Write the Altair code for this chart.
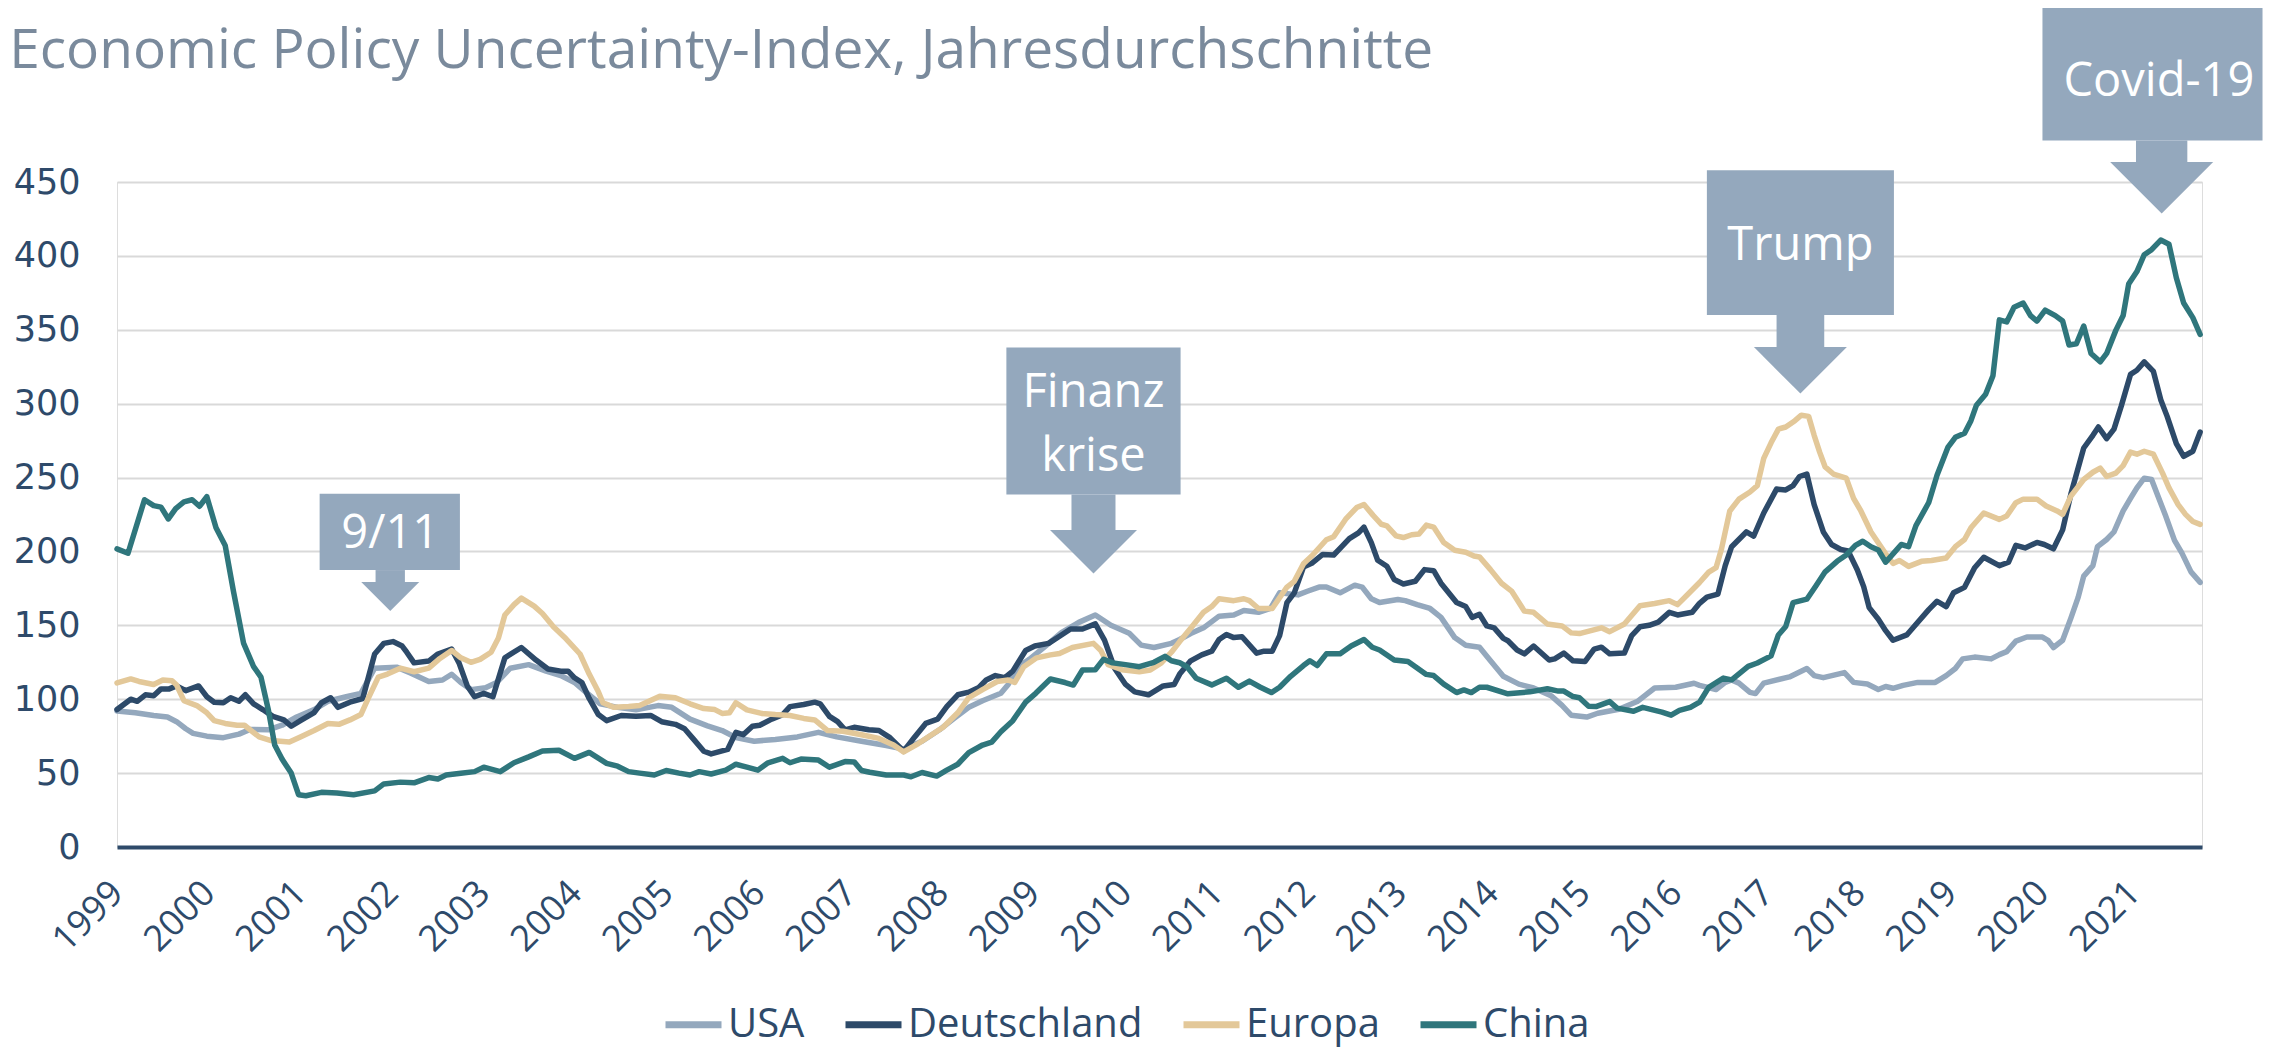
import altair as alt
import pandas as pd

# ---------------- data ----------------
SERIES = ["USA", "Deutschland", "Europa", "China"]
COLORS = ["#94A8BD", "#2D4A69", "#E3C899", "#2F767C"]

USA_T = [1999.0, 1999.2, 1999.4, 1999.55, 1999.65, 1999.75, 1999.83, 1999.98, 2000.16, 2000.33,
         2000.45, 2000.65, 2000.8, 2000.96, 2001.15, 2001.3, 2001.5, 2001.66, 2001.81, 2002.05,
         2002.2, 2002.4, 2002.55, 2002.65, 2002.75, 2002.86, 2003.02, 2003.14, 2003.29, 2003.49,
         2003.68, 2003.84, 2003.99, 2004.11, 2004.27, 2004.46, 2004.66, 2004.9, 2005.05, 2005.25,
         2005.44, 2005.6, 2005.75, 2005.95, 2006.18, 2006.42, 2006.65, 2006.85, 2007.12, 2007.39,
         2007.58, 2007.78, 2007.97, 2008.13, 2008.29, 2008.44, 2008.64, 2008.72, 2008.83, 2008.95,
         2009.14, 2009.3, 2009.49, 2009.67, 2009.84, 2010.04, 2010.17, 2010.31, 2010.5, 2010.59,
         2010.71, 2010.85, 2011.02, 2011.18, 2011.29, 2011.45, 2011.58, 2011.68, 2011.88, 2011.99,
         2012.11, 2012.19, 2012.34, 2012.5, 2012.58, 2012.68, 2012.77, 2012.97, 2013.05, 2013.18,
         2013.32, 2013.44, 2013.59, 2013.71, 2013.86, 2013.98, 2014.12, 2014.29, 2014.45, 2014.64,
         2014.76, 2014.86, 2015.03, 2015.15, 2015.38, 2015.58, 2015.77, 2016.0, 2016.2, 2016.26,
         2016.44, 2016.54, 2016.61, 2016.69, 2016.81, 2016.87, 2016.96, 2017.24, 2017.43, 2017.51,
         2017.61, 2017.84, 2017.94, 2018.09, 2018.21, 2018.29, 2018.37, 2018.48, 2018.64, 2018.83,
         2018.95, 2019.05, 2019.13, 2019.26, 2019.44, 2019.53, 2019.61, 2019.71, 2019.83, 2020.0,
         2020.06, 2020.12, 2020.22, 2020.31, 2020.39, 2020.45, 2020.55, 2020.6, 2020.7, 2020.78,
         2020.88, 2020.96, 2021.03, 2021.11, 2021.19, 2021.27, 2021.34, 2021.44, 2021.52, 2021.62,
         2021.72]
USA_V = [92, 90.8, 89, 88, 84.8, 80, 76.9, 75, 74, 76.4,
         79.5, 79.3, 82.4, 88, 93, 98.6, 101.7, 104, 121, 121.7,
         117.8, 112, 113, 116.9, 111.3, 106.5, 107.7, 111.3, 121, 123.4,
         119, 116, 111.3, 105, 96.9, 94.5, 92.8, 95.7, 94.5, 86.5,
         82, 78.8, 74, 71.6, 72.8, 74.5, 77.6, 74.5, 71.6, 68.7,
         66.3, 71.6, 79.3, 87, 94.5, 99, 104, 110, 122, 127,
         136.6, 145, 152, 157, 150, 144.6, 136.6, 135, 137.8, 140.4,
         144.4, 148.3, 156.2, 157, 160, 158.8, 161.4, 172, 170.6, 173.2,
         175.9, 175.9, 172, 177.2, 175.9, 168, 165.4, 167.5, 166.7, 164,
         161.4, 155.4, 141.7, 136.5, 135.2, 126, 115.5, 110.2, 107.6, 102.4,
         95.8, 89.2, 87.9, 90.5, 93.2, 98.4, 107.6, 108.1, 110.8, 109.4,
         106.6, 111.4, 113.1, 110.9, 104.6, 103.8, 110.9, 115.1, 120.8, 116,
         114.6, 118, 111.4, 110.3, 106.6, 108.6, 107.4, 109.4, 111.4, 111.4,
         116, 120.8, 127.3, 128.5, 127.3, 130.2, 132.2, 139.3, 142.1, 142.1,
         139.9, 135, 139.9, 154.9, 169.1, 183.3, 190.4, 203.2, 208.1, 213.2,
         227.4, 235.9, 243, 249.6, 248.7, 235.9, 224.6, 207.5, 199, 186.2,
         179.1]

DE_T = [1999.0, 1999.15, 1999.22, 1999.31, 1999.4, 1999.48, 1999.57, 1999.65, 1999.75, 1999.89,
        1999.98, 2000.06, 2000.16, 2000.24, 2000.33, 2000.4, 2000.49, 2000.59, 2000.7, 2000.82,
        2000.9, 2001.0, 2001.15, 2001.23, 2001.33, 2001.41, 2001.54, 2001.68, 2001.81, 2001.91,
        2002.01, 2002.11, 2002.16, 2002.24, 2002.4, 2002.5, 2002.65, 2002.73, 2002.82, 2002.9,
        2003.0, 2003.1, 2003.23, 2003.41, 2003.57, 2003.7, 2003.84, 2003.92, 2003.99, 2004.07,
        2004.15, 2004.25, 2004.34, 2004.5, 2004.66, 2004.82, 2004.94, 2005.09, 2005.19, 2005.29,
        2005.4, 2005.48, 2005.66, 2005.75, 2005.83, 2005.93, 2006.01, 2006.14, 2006.26, 2006.34,
        2006.49, 2006.61, 2006.67, 2006.77, 2006.86, 2006.94, 2007.04, 2007.2, 2007.31, 2007.43,
        2007.58, 2007.7, 2007.82, 2007.95, 2008.05, 2008.17, 2008.29, 2008.4, 2008.48, 2008.58,
        2008.68, 2008.77, 2008.91, 2009.01, 2009.16, 2009.28, 2009.4, 2009.53, 2009.67, 2009.77,
        2009.88, 2010.0, 2010.1, 2010.25, 2010.41, 2010.53, 2010.59, 2010.71, 2010.83, 2010.94,
        2011.02, 2011.1, 2011.18, 2011.27, 2011.43, 2011.51, 2011.6, 2011.68, 2011.76, 2011.84,
        2011.94, 2012.03, 2012.15, 2012.27, 2012.36, 2012.44, 2012.54, 2012.6, 2012.68, 2012.75,
        2012.85, 2012.93, 2013.03, 2013.16, 2013.26, 2013.36, 2013.44, 2013.61, 2013.71, 2013.78,
        2013.86, 2013.94, 2014.02, 2014.12, 2014.17, 2014.27, 2014.35, 2014.45, 2014.62, 2014.68,
        2014.78, 2014.88, 2015.01, 2015.11, 2015.19, 2015.28, 2015.44, 2015.52, 2015.61, 2015.71,
        2015.81, 2015.93, 2016.02, 2016.18, 2016.26, 2016.34, 2016.46, 2016.54, 2016.61, 2016.77,
        2016.85, 2016.96, 2017.1, 2017.2, 2017.28, 2017.35, 2017.43, 2017.51, 2017.61, 2017.7,
        2017.8, 2017.88, 2017.98, 2018.05, 2018.11, 2018.21, 2018.29, 2018.37, 2018.52, 2018.6,
        2018.76, 2018.85, 2018.95, 2019.03, 2019.15, 2019.26, 2019.36, 2019.53, 2019.63, 2019.71,
        2019.81, 2019.94, 2020.02, 2020.12, 2020.22, 2020.31, 2020.45, 2020.55, 2020.61, 2020.7,
        2020.78, 2020.86, 2020.96, 2021.03, 2021.11, 2021.21, 2021.29, 2021.36, 2021.46, 2021.54,
        2021.64, 2021.72]
DE_V = [93, 100, 98.6, 103, 102.4, 107, 107, 109, 105.8, 109,
        101.7, 98, 97.6, 101, 98.6, 103, 96.9, 93, 88.4, 86,
        81.7, 85.5, 91, 97.6, 101, 94.5, 98, 100.5, 130.6, 137.8,
        139, 136, 131.8, 124.6, 125.8, 130.6, 134, 124.6, 109, 101.7,
        104, 101.7, 128, 135, 126.5, 120.5, 119, 119, 114.5, 111.3,
        100.5, 89.6, 85.5, 89, 88.4, 89, 84.8, 83, 80, 72.8,
        64.8, 63, 66, 77.6, 76, 81.7, 82.4, 86.5, 89.6, 95,
        96.4, 98, 96.9, 88.4, 84.8, 79.3, 81, 79.3, 78.8, 74,
        64.8, 74.5, 83.6, 86.5, 95, 103, 104.8, 108, 113, 116,
        114.5, 119, 133, 136, 137.8, 142.6, 147.5, 147.5, 151, 140,
        121, 110, 105, 103, 109, 110, 117, 126, 130, 132.5,
        140.4, 143.8, 141.7, 142.3, 131.2, 132.5, 132.5, 143, 165.4, 172,
        189.5, 192, 198, 197.6, 203.4, 208.7, 212.6, 216.5, 206, 194,
        190, 181, 178, 179.8, 187.7, 187, 178.5, 165.4, 162.7, 155.4,
        157.5, 149.6, 148.3, 141.2, 139.6, 133.3, 130.7, 136, 126.5, 127.3,
        131.2, 126, 125.5, 133.9, 135.2, 130.7, 131.2, 143, 149, 150,
        152.2, 158.8, 157, 158.8, 164.9, 169.1, 171.1, 190.4, 203.2, 213.2,
        210.3, 226, 242.2, 241.6, 244.5, 250.7, 252.4, 231.7, 213.2, 204.7,
        201.3, 200.4, 187.6, 176.2, 162, 154.1, 146.4, 139.9, 143.5, 149.2,
        160.6, 166.3, 162.6, 172, 175.7, 189, 196.1, 190.4, 192.7, 204.1,
        202.4, 206.1, 204.7, 201.8, 214.6, 238.8, 270, 278.6, 284.2, 276.3,
        282.8, 298.5, 319.8, 322.6, 328.3, 321.8, 302.7, 291.4, 272.9, 264.4,
        267.8, 280.8]

EU_T = [1999.0, 1999.15, 1999.24, 1999.4, 1999.5, 1999.6, 1999.65, 1999.73, 1999.87, 1999.98,
        2000.06, 2000.18, 2000.31, 2000.39, 2000.55, 2000.68, 2000.88, 2001.0, 2001.15, 2001.3,
        2001.42, 2001.54, 2001.66, 2001.74, 2001.85, 2001.95, 2002.09, 2002.24, 2002.4, 2002.51,
        2002.65, 2002.75, 2002.86, 2002.96, 2003.08, 2003.16, 2003.23, 2003.33, 2003.41, 2003.55,
        2003.64, 2003.76, 2003.88, 2004.05, 2004.15, 2004.25, 2004.3, 2004.42, 2004.58, 2004.7,
        2004.92, 2005.09, 2005.25, 2005.4, 2005.52, 2005.6, 2005.68, 2005.75, 2005.87, 2006.03,
        2006.18, 2006.34, 2006.49, 2006.61, 2006.75, 2006.92, 2007.12, 2007.31, 2007.47, 2007.58,
        2007.74, 2007.86, 2008.01, 2008.17, 2008.29, 2008.44, 2008.6, 2008.72, 2008.79, 2008.89,
        2009.03, 2009.18, 2009.28, 2009.42, 2009.65, 2009.73, 2009.81, 2009.96, 2010.15, 2010.27,
        2010.39, 2010.5, 2010.59, 2010.71, 2010.85, 2010.94, 2011.02, 2011.18, 2011.29, 2011.35,
        2011.45, 2011.6, 2011.76, 2011.84, 2011.94, 2012.03, 2012.19, 2012.27, 2012.4, 2012.52,
        2012.6, 2012.7, 2012.79, 2012.85, 2012.95, 2013.03, 2013.12, 2013.2, 2013.28, 2013.36,
        2013.47, 2013.59, 2013.71, 2013.8, 2013.86, 2013.98, 2014.1, 2014.21, 2014.35, 2014.45,
        2014.6, 2014.76, 2014.86, 2014.95, 2015.19, 2015.28, 2015.44, 2015.61, 2015.77, 2015.93,
        2016.02, 2016.16, 2016.26, 2016.36, 2016.44, 2016.5, 2016.59, 2016.69, 2016.81, 2016.89,
        2016.96, 2017.04, 2017.12, 2017.2, 2017.3, 2017.37, 2017.45, 2017.51, 2017.57, 2017.63,
        2017.72, 2017.86, 2017.94, 2018.02, 2018.13, 2018.29, 2018.37, 2018.44, 2018.54, 2018.68,
        2018.79, 2018.95, 2019.05, 2019.15, 2019.22, 2019.36, 2019.53, 2019.61, 2019.71, 2019.79,
        2019.94, 2020.04, 2020.16, 2020.22, 2020.31, 2020.45, 2020.55, 2020.63, 2020.7, 2020.8,
        2020.88, 2020.96, 2021.03, 2021.11, 2021.21, 2021.31, 2021.38, 2021.48, 2021.56, 2021.64,
        2021.72]
EU_V = [111, 113.7, 112, 110, 113, 112.5, 109.6, 99, 95.7, 90.8,
        85.5, 83.6, 82.4, 82.4, 74.5, 72, 71, 74.5, 78.8, 83.6,
        83, 86, 89.6, 100.5, 115, 117, 121, 118.6, 121, 127,
        133, 128, 125, 127, 131.8, 141.4, 157, 164, 168.4, 163,
        158, 149, 142, 130.6, 117, 105, 97.6, 94.5, 95, 95.7,
        102, 101, 96.9, 93.7, 93, 90.4, 90.8, 97.6, 92.8, 90.4,
        89.6, 89, 87, 86, 78.8, 78.3, 76, 73.5, 69, 64.3,
        70, 75, 81, 90.8, 101, 106.5, 112, 113, 111.3, 122,
        128, 130, 131, 135, 137.8, 133, 123.4, 120, 118.6, 119.8,
        124.6, 131.8, 139, 148, 158.8, 162.7, 168, 166.7, 168, 166.7,
        161.4, 161.4, 175.9, 179.8, 191.6, 196.9, 207.9, 210, 221.8, 229.7,
        231.8, 224.4, 218.4, 217.3, 210.5, 209.4, 211.3, 211.8, 217.8, 216.5,
        206, 200.8, 199.5, 196.9, 196.3, 187.7, 178.5, 173.2, 159.6, 158.8,
        150.9, 149.6, 144.9, 144.4, 148.3, 145.7, 150.9, 163.3, 164.8, 166.7,
        164, 172.7, 179, 186, 189, 201.8, 227.4, 235.4, 240.2, 244.5,
        263, 273.5, 282.8, 284.2, 288.5, 292.2, 291.4, 278.6, 267.2, 257.2,
        252.4, 249.6, 235.9, 227.4, 213.2, 198.4, 191.9, 193.9, 189.9, 193.3,
        193.9, 195.6, 203.2, 208.1, 216, 226, 221.7, 224, 233, 235.4,
        235.4, 230.8, 227.4, 225.1, 237.4, 248.7, 253.6, 256.4, 250.7, 253,
        258.1, 267.2, 265.8, 267.8, 265.8, 253, 243, 231.7, 225.1, 220.3,
        218.3]

CN_T = [1999.0, 1999.12, 1999.3, 1999.4, 1999.48, 1999.56, 1999.64, 1999.73, 1999.82, 1999.9,
        1999.98, 2000.08, 2000.18, 2000.27, 2000.38, 2000.49, 2000.57, 2000.65, 2000.72, 2000.8,
        2000.9, 2000.98, 2001.06, 2001.23, 2001.4, 2001.58, 2001.81, 2001.91, 2002.09, 2002.24,
        2002.4, 2002.5, 2002.59, 2002.75, 2002.9, 2003.0, 2003.18, 2003.33, 2003.49, 2003.64,
        2003.82, 2003.99, 2004.15, 2004.34, 2004.46, 2004.58, 2004.7, 2004.86, 2004.99, 2005.13,
        2005.25, 2005.35, 2005.48, 2005.64, 2005.75, 2005.87, 2005.99, 2006.1, 2006.26, 2006.34,
        2006.46, 2006.65, 2006.77, 2006.94, 2007.04, 2007.12, 2007.21, 2007.39, 2007.58, 2007.66,
        2007.78, 2007.94, 2008.05, 2008.17, 2008.29, 2008.44, 2008.54, 2008.64, 2008.77, 2008.91,
        2009.02, 2009.18, 2009.34, 2009.43, 2009.53, 2009.67, 2009.76, 2009.86, 2010.0, 2010.15,
        2010.31, 2010.43, 2010.5, 2010.59, 2010.67, 2010.77, 2010.94, 2011.1, 2011.23, 2011.35,
        2011.47, 2011.59, 2011.68, 2011.8, 2011.94, 2012.01, 2012.09, 2012.19, 2012.34, 2012.46,
        2012.6, 2012.69, 2012.77, 2012.93, 2013.08, 2013.28, 2013.36, 2013.47, 2013.61, 2013.69,
        2013.77, 2013.86, 2013.94, 2014.17, 2014.41, 2014.6, 2014.72, 2014.78, 2014.88, 2014.95,
        2015.05, 2015.13, 2015.28, 2015.36, 2015.54, 2015.64, 2015.85, 2015.95, 2016.04, 2016.16,
        2016.26, 2016.36, 2016.52, 2016.61, 2016.79, 2016.89, 2017.04, 2017.12, 2017.2, 2017.28,
        2017.43, 2017.53, 2017.63, 2017.76, 2017.86, 2017.96, 2018.04, 2018.13, 2018.21, 2018.29,
        2018.38, 2018.46, 2018.54, 2018.62, 2018.76, 2018.85, 2018.97, 2019.05, 2019.15, 2019.22,
        2019.28, 2019.38, 2019.46, 2019.53, 2019.61, 2019.69, 2019.79, 2019.87, 2019.94, 2020.03,
        2020.14, 2020.22, 2020.29, 2020.37, 2020.45, 2020.53, 2020.63, 2020.7, 2020.8, 2020.88,
        2020.94, 2021.03, 2021.11, 2021.19, 2021.29, 2021.38, 2021.46, 2021.54, 2021.64, 2021.72]
CN_V = [201.7, 198.8, 235, 231, 230, 222, 229, 233.5, 235, 230.6,
        237, 216, 204, 173, 138, 122, 115, 93, 69, 59.5,
        50, 35.4, 34.7, 37, 36.6, 35.4, 38, 42.7, 43.9, 43.4,
        47, 46, 48.7, 49.9, 51, 54, 51, 57, 61, 65,
        65.5, 60, 64, 56.6, 54.7, 51, 50, 48.7, 51.8, 50,
        48.7, 51, 49.4, 52, 56, 54, 52, 57, 60, 57,
        59.5, 58.8, 54, 57.8, 57.6, 51.8, 50.6, 48.7, 48.7, 47.5,
        50.4, 48, 52, 56, 63.9, 69, 71, 78, 85.5, 98,
        104, 113.7, 111.3, 109.6, 119.8, 120, 127, 124.6, 123.4, 122,
        125, 129, 126, 124.7, 122, 114.2, 109.7, 114.2, 108.1, 112.3,
        108.1, 104.5, 108.1, 115.5, 122.8, 126, 122.8, 130.7, 130.7, 136,
        140.4, 135.2, 133.3, 126.5, 125.5, 116.8, 116, 110.2, 104.5, 106.3,
        104.5, 108.1, 108.1, 103.7, 105, 107.1, 105.5, 105.5, 101.8, 101,
        95.3, 95, 98.4, 94, 91.9, 94.5, 91.3, 89.2, 92.4, 94.5,
        98, 108, 114.3, 113.1, 122.2, 124.5, 129.3, 143.5, 149.2, 165.4,
        167.7, 176.8, 186.2, 193.3, 197.6, 204.1, 206.9, 203.2, 201, 192.7,
        199, 204.7, 203.2, 217.5, 233.1, 251.6, 270.6, 277.2, 280, 288.5,
        299, 306.4, 318.9, 356.7, 355.3, 365.3, 368.1, 359.6, 355.9, 363.3,
        359.6, 355.9, 339.7, 340.5, 352.5, 334, 328.3, 334, 349.6, 359.6,
        380.9, 389.4, 400.8, 404.2, 410.7, 407.9, 385.2, 368.1, 358.2, 346.8]

YEARS = list(range(1999, 2022))
Y_TICKS = list(range(0, 451, 50))

TITLE = "Economic Policy Uncertainty-Index, Jahresdurchschnitte"

# annotation callouts (box, stem, arrow head) in data units
ANN_X0 = [2001.21, 2008.70, 2016.34, 2020.00]
ANN_X1 = [2002.74, 2010.60, 2018.38, 2022.40]
ANN_TOP = [239.0, 338.0, 458.0, 568.0]
ANN_BOTTOM = [187.4, 238.5, 360.0, 478.0]
STEM_X0 = [2001.82, 2009.41, 2017.10, 2021.02]
STEM_X1 = [2002.14, 2009.89, 2017.62, 2021.58]
STEM_BOTTOM = [179.3, 214.5, 338.3, 463.5]
HEAD_SIZE = [3364, 7569, 8649, 10609]
ANN_TEXT = ["9/11", "Finanz", "krise", "Trump", "Covid-19"]
ANN_TEXT_X = [2001.98, 2009.65, 2009.65, 2017.36, 2021.27]
ANN_TEXT_Y = [202.3, 297.7, 254.4, 397.2, 508.0]

ANN_COLOR = "#94A8BD"
NAVY = "#2E4A6A"

# ---------------- tables ----------------
rows = []
for name, ts, vs in [("USA", USA_T, USA_V), ("Deutschland", DE_T, DE_V),
                     ("Europa", EU_T, EU_V), ("China", CN_T, CN_V)]:
    for i, (t, v) in enumerate(zip(ts, vs)):
        rows.append({"series": name, "t": t, "value": v, "i": i})
lines_df = pd.DataFrame(rows)

boxes_df = pd.DataFrame({"x0": ANN_X0, "x1": ANN_X1, "y0": ANN_BOTTOM, "y1": ANN_TOP})
stems_df = pd.DataFrame({"x0": STEM_X0, "x1": STEM_X1, "y0": STEM_BOTTOM, "y1": ANN_BOTTOM})
heads_df = pd.DataFrame({"x": [(a + b) / 2 for a, b in zip(STEM_X0, STEM_X1)],
                         "y": STEM_BOTTOM, "s": HEAD_SIZE})
text_df = pd.DataFrame({"x": ANN_TEXT_X, "y": ANN_TEXT_Y, "label": ANN_TEXT})

# ---------------- scales / axes ----------------
XS = alt.Scale(domain=[1999, 2021.74], nice=False, zero=False)
YS = alt.Scale(domain=[0, 450], nice=False, zero=False)
XAX = alt.Axis(values=YEARS, format="d", labelAngle=-45, labelAlign="right",
               labelBaseline="middle", tickSize=0, ticks=False, grid=False,
               domainColor=NAVY, domainWidth=4, labelFont="Open Sans",
               labelFontSize=36, labelColor=NAVY, labelPadding=40,
               labelOverlap=False, title=None)
YAX = alt.Axis(values=Y_TICKS, grid=True, gridColor="#D9D9D9", gridWidth=2,
               domain=False, ticks=False, labelFont="DejaVu Sans", labelFontSize=35,
               labelColor=NAVY, labelPadding=37, title=None)


def X(f):
    return alt.X(f, type="quantitative", scale=XS, axis=XAX)


def Y(f):
    return alt.Y(f, type="quantitative", scale=YS, axis=YAX)


lines = alt.Chart(lines_df).mark_line(strokeWidth=5.5, strokeJoin="round", strokeCap="round").encode(
    x=X("t"),
    y=Y("value"),
    color=alt.Color("series:N", scale=alt.Scale(domain=SERIES, range=COLORS),
                    legend=alt.Legend(orient="none", legendX=545, legendY=811,
                                      direction="horizontal", title=None,
                                      symbolType="stroke", symbolSize=3136,
                                      symbolStrokeWidth=7, labelFont="Open Sans",
                                      labelFontSize=40, labelColor=NAVY, labelLimit=600,
                                      columnPadding=26, labelOffset=3)),
    detail="series:N",
    order="i:Q",
)

boxes = alt.Chart(boxes_df).mark_rect(color=ANN_COLOR).encode(
    x=X("x0"), x2="x1", y=Y("y0"), y2="y1")
stems = alt.Chart(stems_df).mark_rect(color=ANN_COLOR).encode(
    x=X("x0"), x2="x1", y=Y("y0"), y2="y1")
heads = alt.Chart(heads_df).mark_point(shape="M-1,0L1,0L0,1Z", filled=True, color=ANN_COLOR,
                                       opacity=1, strokeWidth=0).encode(
    x=X("x"), y=Y("y"), size=alt.Size("s:Q", scale=None, legend=None))
texts = alt.Chart(text_df).mark_text(color="white", font="Open Sans", fontSize=47,
                                     baseline="alphabetic", align="center").encode(
    x=X("x"), y=Y("y"), text="label:N")

chart = alt.layer(lines, boxes, stems, heads, texts).properties(
    width=2085, height=665,
    title=alt.TitleParams(TITLE, anchor="start", font="Open Sans", fontSize=55,
                          fontWeight="normal", color="#7A8A9C", dx=-4, dy=72, offset=0),
    autosize=alt.AutoSizeParams(type="none"),
    padding={"left": 109, "top": 174, "right": 69, "bottom": 203},
).configure_view(stroke=None).configure(background="white")

chart.save("out.html", embed_options={"renderer": "svg", "actions": False})
